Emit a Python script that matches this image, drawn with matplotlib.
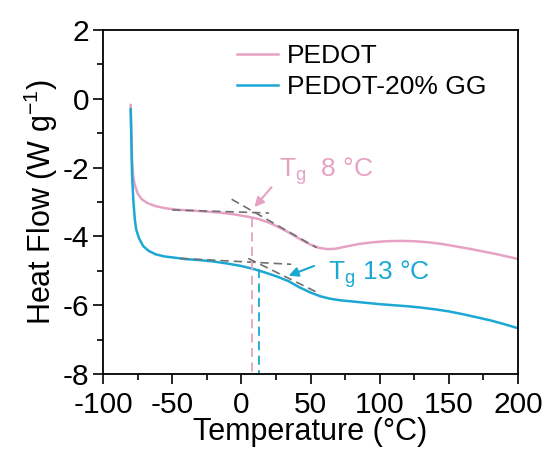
import numpy as np
import matplotlib
matplotlib.use('Agg')
import matplotlib.pyplot as plt
from matplotlib.ticker import MultipleLocator

plt.rcParams['font.family'] = ['Liberation Sans', 'DejaVu Sans']
plt.rcParams['mathtext.fontset'] = 'custom'
plt.rcParams['mathtext.rm'] = 'Liberation Sans'
plt.rcParams['mathtext.it'] = 'Liberation Sans'
plt.rcParams['axes.unicode_minus'] = False

##################
# data
##################

pedot_T = [-80, -79.5, -79, -78, -77, -75, -72, -68, -62, -55, -45, -35, -25, -15, -5,
           5, 12, 20, 28, 35, 42, 50, 56, 62, 68, 75, 85, 95, 105, 115, 125, 135, 145,
           155, 165, 175, 185, 195, 200]
pedot_H = [-0.18, -1.0, -1.8, -2.3, -2.5, -2.75, -2.92, -3.03, -3.12, -3.18, -3.23, -3.25,
           -3.28, -3.31, -3.36, -3.43, -3.49, -3.6, -3.75, -3.9, -4.07, -4.24, -4.33,
           -4.37, -4.36, -4.3, -4.22, -4.17, -4.14, -4.13, -4.14, -4.17, -4.22, -4.29,
           -4.36, -4.44, -4.52, -4.61, -4.66]

gg_T = [-80, -79.5, -79, -78, -77, -76, -74, -71, -67, -62, -56, -48, -40, -30, -20, -10,
        0, 10, 18, 26, 34, 42, 50, 57, 64, 72, 80, 90, 100, 110, 120, 130, 140, 150, 160,
        170, 180, 190, 200]
gg_H = [-0.3, -1.2, -2.2, -3.0, -3.5, -3.8, -4.05, -4.28, -4.42, -4.52, -4.58, -4.62,
        -4.66, -4.69, -4.73, -4.79, -4.86, -4.96, -5.06, -5.17, -5.3, -5.48, -5.63, -5.74,
        -5.81, -5.86, -5.89, -5.93, -5.97, -6.0, -6.03, -6.07, -6.12, -6.18, -6.26,
        -6.35, -6.44, -6.55, -6.67]

# tangent construction (onset lines)
pedot_base = ([-50, 20], [-3.23, -3.32])
pedot_step = ([-7, 54.5], [-2.92, -4.33])
gg_base = ([-44, 36], [-4.64, -4.81])
gg_step = ([5, 57], [-4.64, -5.67])

tg_pedot, tg_gg = 8, 13
tg_pedot_y, tg_gg_y = -3.47, -4.95

pink = '#E6A2C4'
blue = '#1BA8D2'
gray = '#707070'

fig = plt.figure(figsize=(5.47, 4.54), dpi=100)
ax = fig.add_axes([0.1883, 0.1762, 0.7587, 0.7577])

ax.plot(pedot_T, pedot_H, color=pink, lw=1.8, label='PEDOT')
ax.plot(gg_T, gg_H, color=blue, lw=1.8, label='PEDOT-20% GG')

for xs, ys in [pedot_base, pedot_step, gg_base, gg_step]:
	ax.plot(xs, ys, '--', color=gray, lw=1.2, dashes=(5, 3))

ax.plot([tg_pedot, tg_pedot], [tg_pedot_y, -8], '--', color=pink, lw=1.3, dashes=(5, 3))
ax.plot([tg_gg, tg_gg], [tg_gg_y, -8], '--', color=blue, lw=1.3, dashes=(5, 3))

ax.annotate('', xy=(8.2, -3.21), xytext=(23.1, -2.51),
            arrowprops=dict(arrowstyle='-|>', color=pink, lw=1.5, mutation_scale=14))
ax.annotate('', xy=(32.3, -5.17), xytext=(54.5, -4.83),
            arrowprops=dict(arrowstyle='-|>', color=blue, lw=1.5, mutation_scale=14))
ax.text(27.2, -2.26, r'T$_\mathregular{g}$  8 °C', color=pink, fontsize=19, va='baseline')
ax.text(62.9, -5.27, r'T$_\mathregular{g}$ 13 °C', color=blue, fontsize=19, va='baseline')

ax.set_xlim(-100, 200)
ax.set_ylim(-8, 2)
ax.xaxis.set_major_locator(MultipleLocator(50))
ax.xaxis.set_minor_locator(MultipleLocator(25))
ax.yaxis.set_major_locator(MultipleLocator(2))
ax.yaxis.set_minor_locator(MultipleLocator(1))
ax.tick_params(which='major', direction='out', length=7, width=1.2, labelsize=21.5)
ax.tick_params(axis='x', which='major', pad=5)
ax.tick_params(axis='y', which='major', pad=3)
ax.tick_params(which='minor', direction='out', length=4, width=1.2)
for s in ax.spines.values():
	s.set_linewidth(1.3)

ax.set_xlabel('Temperature (°C)', fontsize=22, labelpad=-1)
ax.set_ylabel(r'Heat Flow (W g$^{\mathregular{-1}}$)', fontsize=22, labelpad=2)

ax.legend(loc='upper left', bbox_to_anchor=(0.323, 0.958), frameon=False, fontsize=19,
          handlelength=1.55, handletextpad=0.35, labelspacing=0.25, borderpad=0,
          borderaxespad=0)

plt.savefig('out.png', dpi=100)
